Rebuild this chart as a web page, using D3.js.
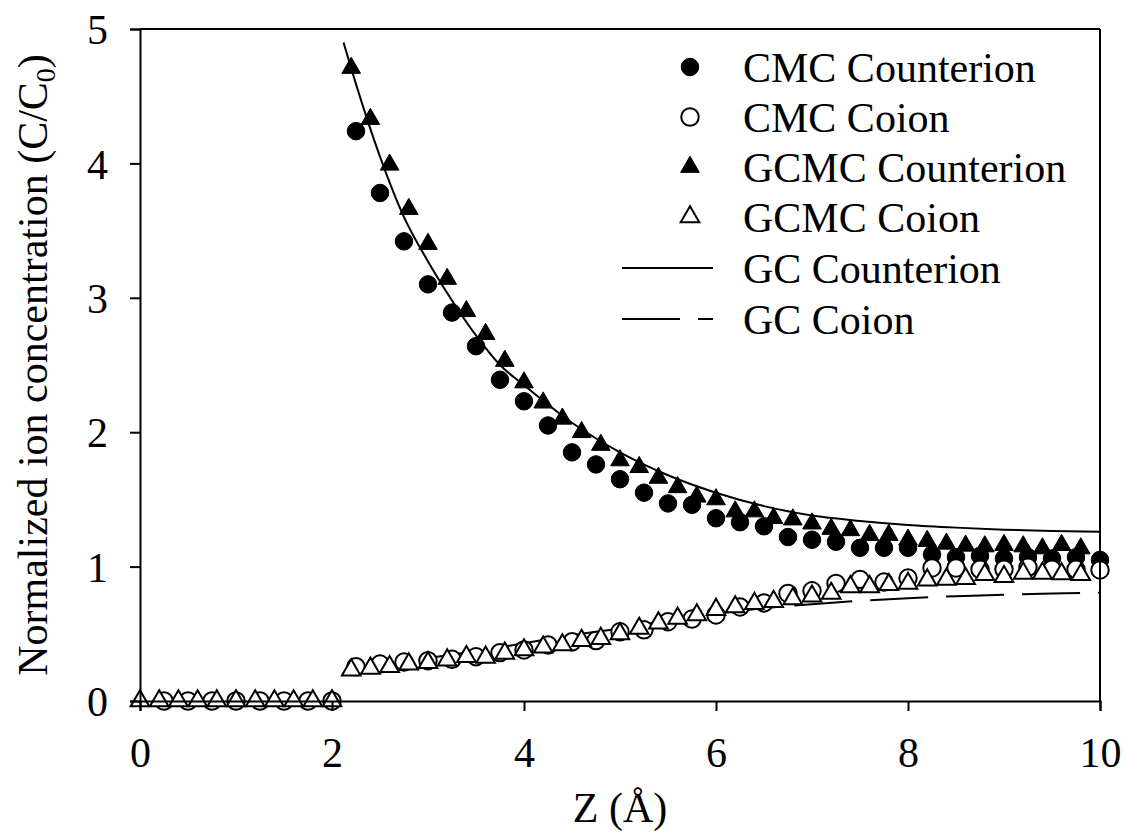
<!DOCTYPE html>
<html>
<head>
<meta charset="utf-8">
<script src="https://cdn.jsdelivr.net/npm/d3@7/dist/d3.min.js"></script>
<style>
  body { margin: 0; background: #fff; }
  svg { display: block; }
  text { font-family: "Liberation Serif", "Times New Roman", serif; fill: #000; }
</style>
</head>
<body>
<svg id="chart" width="1125" height="835"></svg>
<script>
// ---- data ----
const xTicks = [0, 2, 4, 6, 8, 10];
const yTicks = [0, 1, 2, 3, 4, 5];

// CMC (step 0.25)
const cmcLowX = [0.25, 0.5, 0.75, 1.0, 1.25, 1.5, 1.75, 2.0];
const cmcLowY = [0, 0, 0, 0, 0, 0, 0, 0];
const cmcX = [2.25, 2.5, 2.75, 3.0, 3.25, 3.5, 3.75, 4.0, 4.25, 4.5, 4.75, 5.0, 5.25, 5.5, 5.75, 6.0,
              6.25, 6.5, 6.75, 7.0, 7.25, 7.5, 7.75, 8.0, 8.25, 8.5, 8.75, 9.0, 9.25, 9.5, 9.75, 10.0];
const cmcCounter = [4.24, 3.78, 3.42, 3.10, 2.89, 2.64, 2.39, 2.23, 2.05, 1.85, 1.76, 1.65, 1.55, 1.47, 1.46, 1.36,
                    1.33, 1.30, 1.22, 1.20, 1.185, 1.14, 1.14, 1.14, 1.09, 1.07, 1.08, 1.06, 1.07, 1.06, 1.07, 1.05];
const cmcCoion = [0.255, 0.275, 0.29, 0.30, 0.31, 0.33, 0.36, 0.38, 0.417, 0.44, 0.45, 0.515, 0.53, 0.59, 0.61, 0.64,
                  0.70, 0.73, 0.80, 0.82, 0.875, 0.905, 0.885, 0.915, 0.99, 0.99, 0.98, 0.98, 0.995, 0.98, 0.98, 0.975];

// GCMC (step 0.2)
const gcmcLowX = [0, 0.2, 0.4, 0.6, 0.8, 1.0, 1.2, 1.4, 1.6, 1.8, 2.0];
const gcmcLowY = [0, 0, 0, 0, 0, 0, 0, 0, 0, 0, 0];
const gcmcX = [2.2, 2.4, 2.6, 2.8, 3.0, 3.2, 3.4, 3.6, 3.8, 4.0, 4.2, 4.4, 4.6, 4.8, 5.0, 5.2, 5.4, 5.6, 5.8, 6.0,
               6.2, 6.4, 6.6, 6.8, 7.0, 7.2, 7.4, 7.6, 7.8, 8.0, 8.2, 8.4, 8.6, 8.8, 9.0, 9.2, 9.4, 9.6, 9.8];
const gcmcCounter = [4.71, 4.33, 3.99, 3.66, 3.40, 3.14, 2.90, 2.73, 2.53, 2.37, 2.22, 2.10, 2.00, 1.905, 1.79, 1.74, 1.66, 1.59, 1.52, 1.50,
                     1.41, 1.41, 1.36, 1.35, 1.32, 1.28, 1.27, 1.235, 1.235, 1.20, 1.19, 1.17, 1.155, 1.15, 1.16, 1.15, 1.135, 1.16, 1.135];
const gcmcCoion = [0.23, 0.243, 0.255, 0.275, 0.285, 0.305, 0.33, 0.325, 0.355, 0.38, 0.40, 0.417, 0.45, 0.465, 0.50, 0.54, 0.58, 0.615, 0.64, 0.68,
                   0.70, 0.725, 0.74, 0.76, 0.78, 0.80, 0.85, 0.85, 0.865, 0.875, 0.90, 0.905, 0.91, 0.94, 0.925, 0.95, 0.95, 0.945, 0.94];

// Gouy-Chapman theory curves
const gcX = [2.12, 2.25, 2.5, 2.75, 3.0, 3.25, 3.5, 3.75, 4.0, 4.5, 5.0, 5.5, 6.0, 6.5, 7.0, 7.5, 8.0, 8.5, 9.0, 9.5, 10.0];
const gcCounter = [4.90, 4.59, 4.05, 3.60, 3.27, 2.98, 2.72, 2.50, 2.35, 2.07, 1.85, 1.68, 1.55, 1.45, 1.38, 1.34, 1.31, 1.29, 1.275, 1.265, 1.26];
const gcCoion = [0.21, 0.225, 0.26, 0.29, 0.32, 0.345, 0.37, 0.40, 0.43, 0.49, 0.54, 0.60, 0.65, 0.69, 0.72, 0.745, 0.765, 0.78, 0.79, 0.80, 0.805];

const legendLabels = ["CMC Counterion", "CMC Coion", "GCMC Counterion", "GCMC Coion", "GC Counterion", "GC Coion"];

// ---- chart ----
const svg = d3.select("#chart");
const x = d3.scaleLinear().domain([0, 10]).range([140, 1100]);
const y = d3.scaleLinear().domain([0, 5]).range([701, 29]);
const FS = 42;

const zip = (xs, ys) => xs.map((v, i) => [v, ys[i]]);

// theory lines
const line = d3.line().x(d => x(d[0])).y(d => y(d[1])).curve(d3.curveMonotoneX);
svg.append("path").attr("d", line(zip(gcX, gcCounter)))
  .attr("fill", "none").attr("stroke", "#000").attr("stroke-width", 2);
svg.append("path").attr("d", line(zip(gcX, gcCoion)))
  .attr("fill", "none").attr("stroke", "#000").attr("stroke-width", 2)
  .attr("stroke-dasharray", "58,18");

// markers
const circleSym = d3.symbol().type(d3.symbolCircle).size(240);
const triSym = d3.symbol().type(d3.symbolTriangle).size(150);

function drawPoints(pts, sym, filled) {
  svg.append("g").selectAll("path").data(pts).join("path")
    .attr("d", sym)
    .attr("transform", d => `translate(${x(d[0])},${y(d[1])})`)
    .attr("fill", filled ? "#000" : "#fff")
    .attr("stroke", "#000")
    .attr("stroke-width", filled ? 1 : 2);
}

drawPoints(zip(cmcX, cmcCounter), circleSym, true);
drawPoints(zip(gcmcX, gcmcCounter), triSym, true);
drawPoints(zip(cmcLowX, cmcLowY).concat(zip(cmcX, cmcCoion)), circleSym, false);
drawPoints(zip(gcmcLowX, gcmcLowY).concat(zip(gcmcX, gcmcCoion)), triSym, false);

// axes
const xAxis = d3.axisBottom(x).tickValues(xTicks).tickSize(10).tickPadding(26).tickFormat(d3.format("d"));
const yAxis = d3.axisLeft(y).tickValues(yTicks).tickSize(10).tickPadding(22).tickFormat(d3.format("d"));

const gx = svg.append("g").attr("transform", `translate(0,${y(0)})`).call(xAxis);
const gy = svg.append("g").attr("transform", `translate(${x(0)},0)`).call(yAxis);
[gx, gy].forEach(g => {
  g.select(".domain").attr("stroke", "#000").attr("stroke-width", 2);
  g.selectAll(".tick line").attr("stroke", "#000").attr("stroke-width", 2);
  g.selectAll(".tick text").attr("font-size", FS).attr("font-family", "Liberation Serif").attr("fill", "#000");
});
gy.selectAll(".tick text").attr("dy", "0.35em");

// frame top/right
svg.append("line").attr("x1", x(0)).attr("x2", x(10)).attr("y1", y(5)).attr("y2", y(5))
  .attr("stroke", "#000").attr("stroke-width", 2);
svg.append("line").attr("x1", x(10)).attr("x2", x(10)).attr("y1", y(5)).attr("y2", y(0))
  .attr("stroke", "#000").attr("stroke-width", 2);

// axis titles
svg.append("text").attr("x", (x(0) + x(10)) / 2).attr("y", 822)
  .attr("text-anchor", "middle").attr("font-size", FS).text("Z (Å)");

const yt = svg.append("text").attr("transform", `translate(47,${(y(0) + y(5)) / 2}) rotate(-90)`)
  .attr("text-anchor", "middle").attr("font-size", FS);
yt.append("tspan").text("Normalized ion concentration (C/C");
yt.append("tspan").attr("font-size", 28).attr("dy", 8).text("0");
yt.append("tspan").attr("dy", -8).text(")");

// legend
const legY = [67, 117, 167, 217, 268, 319];
const lg = svg.append("g");
const mx = 690;
lg.append("path").attr("d", circleSym).attr("transform", `translate(${mx},${legY[0]})`).attr("fill", "#000").attr("stroke", "#000");
lg.append("path").attr("d", circleSym).attr("transform", `translate(${mx},${legY[1]})`).attr("fill", "#fff").attr("stroke", "#000").attr("stroke-width", 2);
lg.append("path").attr("d", triSym).attr("transform", `translate(${mx},${legY[2]})`).attr("fill", "#000").attr("stroke", "#000");
lg.append("path").attr("d", triSym).attr("transform", `translate(${mx},${legY[3]})`).attr("fill", "#fff").attr("stroke", "#000").attr("stroke-width", 2);
lg.append("line").attr("x1", 622).attr("x2", 713).attr("y1", legY[4]).attr("y2", legY[4]).attr("stroke", "#000").attr("stroke-width", 2);
lg.append("line").attr("x1", 622).attr("x2", 713).attr("y1", legY[5]).attr("y2", legY[5]).attr("stroke", "#000").attr("stroke-width", 2).attr("stroke-dasharray", "58,18");
lg.selectAll("text").data(legendLabels).join("text")
  .attr("x", 743).attr("y", (d, i) => legY[i] + 15)
  .attr("font-size", FS).text(d => d);
</script>
</body>
</html>
